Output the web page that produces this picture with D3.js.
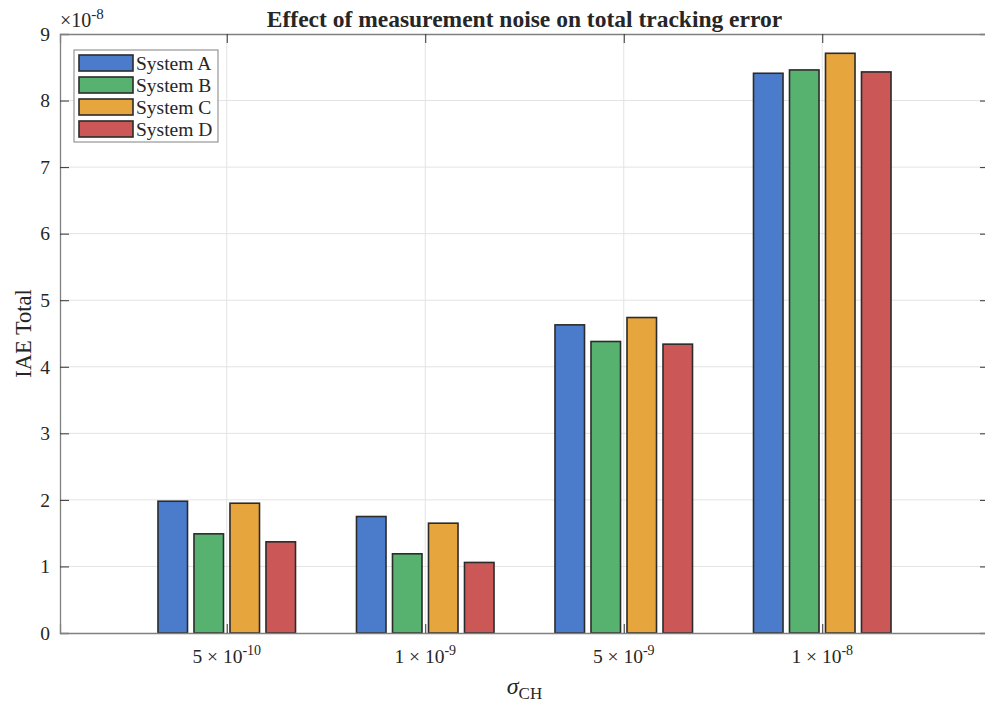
<!DOCTYPE html>
<html>
<head>
<meta charset="utf-8">
<script src="https://cdn.jsdelivr.net/npm/d3@7"></script>
<style>
  body { margin: 0; background: #fff; }
  text { font-family: "Liberation Serif", "Times New Roman", serif; fill: #262626; }
</style>
</head>
<body>
<div id="chart-area"></div>
<script>
// data (values x 1e-8)
var groups = ["5e-10", "1e-9", "5e-9", "1e-8"];
var groupLabels = [["5 \u00d7 10", "-10"], ["1 \u00d7 10", "-9"], ["5 \u00d7 10", "-9"], ["1 \u00d7 10", "-8"]];
var systems = ["System A", "System B", "System C", "System D"];
var systemA = [1.98, 1.75, 4.63, 8.41];
var systemB = [1.49, 1.19, 4.38, 8.46];
var systemC = [1.95, 1.65, 4.74, 8.71];
var systemD = [1.37, 1.06, 4.34, 8.43];
var yTicks = [0, 1, 2, 3, 4, 5, 6, 7, 8, 9];

var series = [systemA, systemB, systemC, systemD];
var colors = ["#4a7ccb", "#58b26f", "#e6a53d", "#cc5757"];

var W = 985, H = 704;
var margin = {left: 60, right: -4, top: 34, bottom: 71};
var width = W - margin.left - margin.right,
	height = H - margin.top - margin.bottom;

var svg = d3.select("#chart-area").append("svg")
	.attr("width", W)
	.attr("height", H);

var canvas = svg.append("g")
	.attr("transform", "translate(" + margin.left + "," + margin.top + ")");

// scales
var x = d3.scaleLinear()
	.domain([0.16, 4.84])
	.range([0, width]);

var inner = d3.scaleBand()
	.domain(d3.range(systems.length))
	.range([-72, 72])
	.paddingInner(0.18)
	.paddingOuter(0.09);

var y = d3.scaleLinear()
	.domain([0, 9])
	.range([height, 0]);

var axisColor = "#808080";

// grid
canvas.append("g").selectAll("line")
	.data(yTicks.slice(1, -1))
	.enter().append("line")
		.attr("x1", 0).attr("x2", width)
		.attr("y1", function(d){ return y(d); })
		.attr("y2", function(d){ return y(d); })
		.attr("stroke", "#e3e3e3").attr("stroke-width", 1);

canvas.append("g").selectAll("line")
	.data(groups)
	.enter().append("line")
		.attr("x1", function(d, i){ return x(i + 1); })
		.attr("x2", function(d, i){ return x(i + 1); })
		.attr("y1", 0).attr("y2", height)
		.attr("stroke", "#e3e3e3").attr("stroke-width", 1);

// bars
var data = [];
groups.forEach(function(g, i){
	series.forEach(function(s, j){
		data.push({group: i, sys: j, value: s[i]});
	});
});

canvas.append("g").selectAll("rect")
	.data(data)
	.enter().append("rect")
		.attr("x", function(d){ return x(d.group + 1) + inner(d.sys); })
		.attr("width", inner.bandwidth())
		.attr("y", function(d){ return y(d.value); })
		.attr("height", function(d){ return y(0) - y(d.value); })
		.attr("fill", function(d){ return colors[d.sys]; })
		.attr("stroke", "#2b2b2b")
		.attr("stroke-width", 1.6);

// axes (box style, ticks inward)
var yAxisL = d3.axisLeft(y).tickValues(yTicks).tickSize(-9).tickPadding(10).tickFormat(d3.format("d"));
var yAxisR = d3.axisRight(y).tickValues(yTicks).tickSize(-9).tickFormat("");
var xAxisB = d3.axisBottom(x).tickValues([1, 2, 3, 4]).tickSize(-9).tickFormat("");
var xAxisT = d3.axisTop(x).tickValues([1, 2, 3, 4]).tickSize(-9).tickFormat("");

function styleAxis(g) {
	g.select(".domain").attr("stroke", axisColor).attr("stroke-width", 1.3);
	g.selectAll(".tick line").attr("stroke", "#333").attr("stroke-width", 1);
	g.selectAll(".tick text").attr("font-size", "19.5px").attr("fill", "#262626")
		.attr("font-family", "Liberation Serif");
}

canvas.append("g").call(yAxisL).call(styleAxis);
canvas.append("g").attr("transform", "translate(" + width + ",0)").call(yAxisR).call(styleAxis);
canvas.append("g").attr("transform", "translate(0," + height + ")").call(xAxisB).call(styleAxis);
canvas.append("g").call(xAxisT).call(styleAxis);

// x tick labels with superscripts
var xl = canvas.append("g").selectAll("text")
	.data(groupLabels)
	.enter().append("text")
		.attr("x", function(d, i){ return x(i + 1); })
		.attr("y", height + 30)
		.attr("text-anchor", "middle")
		.attr("font-size", "19.5px");
xl.append("tspan").text(function(d){ return d[0]; });
xl.append("tspan").attr("dy", -8).attr("font-size", "14px").text(function(d){ return d[1]; });

// exponent
var ex = canvas.append("text")
	.attr("x", 0)
	.attr("y", -7)
	.attr("font-size", "20px");
ex.append("tspan").text("\u00d710");
ex.append("tspan").attr("dy", -8).attr("font-size", "15px").text("-8");

// title
svg.append("text")
	.attr("x", margin.left + width / 2)
	.attr("y", 26.5)
	.attr("text-anchor", "middle")
	.attr("font-size", "23.5px")
	.attr("font-weight", "bold")
	.attr("fill", "#000")
	.text("Effect of measurement noise on total tracking error");

// y label
svg.append("text")
	.attr("transform", "translate(31," + (margin.top + height / 2) + ") rotate(-90)")
	.attr("text-anchor", "middle")
	.attr("font-size", "22.5px")
	.text("IAE Total");

// x label
var xlab = svg.append("text")
	.attr("x", margin.left + width / 2)
	.attr("y", 694)
	.attr("text-anchor", "middle")
	.attr("font-size", "24px");
xlab.append("tspan").attr("font-style", "italic").text("\u03c3");
xlab.append("tspan").attr("font-size", "17px").attr("dy", 5).text("CH");

// legend
var legend = canvas.append("g")
	.attr("transform", "translate(14,16)");

legend.append("rect")
	.attr("width", 144)
	.attr("height", 92)
	.attr("fill", "#fff")
	.attr("stroke", "#808080")
	.attr("stroke-width", 1);

systems.forEach(function(s, i){
	var row = legend.append("g")
		.attr("transform", "translate(5," + (5 + i * 22) + ")");
	row.append("rect")
		.attr("width", 54)
		.attr("height", 16)
		.attr("fill", colors[i])
		.attr("stroke", "#2b2b2b")
		.attr("stroke-width", 1.6);
	row.append("text")
		.attr("x", 57)
		.attr("y", 15)
		.attr("font-size", "19.5px")
		.text(s);
});
</script>
</body>
</html>
